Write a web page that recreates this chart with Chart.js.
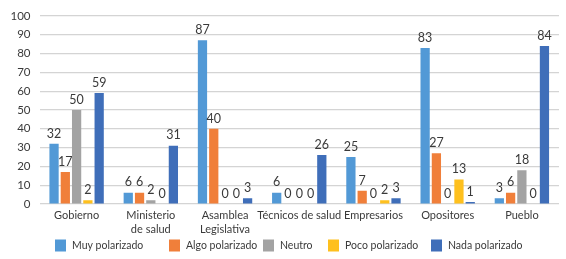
<!DOCTYPE html>
<html>
<head>
<meta charset="utf-8">
<script src="https://cdn.jsdelivr.net/npm/chart.js@4"></script>
<style>
html,body{margin:0;padding:0;background:#fff;}
#wrap{width:566px;height:259px;position:relative;}
</style>
</head>
<body>
<div id="wrap"><canvas id="c" width="566" height="259"></canvas></div>
<script>
const categories = [['Gobierno'], ['Ministerio', 'de salud'], ['Asamblea', 'Legislativa'], ['Técnicos de salud'], ['Empresarios'], ['Opositores'], ['Pueblo']];
const seriesNames = ['Muy polarizado', 'Algo polarizado', 'Neutro', 'Poco polarizado', 'Nada polarizado'];
const muyPolarizado  = [32, 6, 87, 6, 25, 83, 3];
const algoPolarizado = [17, 6, 40, 0, 7, 27, 6];
const neutro         = [50, 2, 0, 0, 0, 0, 18];
const pocoPolarizado = [2, 0, 0, 0, 2, 13, 0];
const nadaPolarizado = [59, 31, 3, 26, 3, 1, 84];
const yTicks = [0, 10, 20, 30, 40, 50, 60, 70, 80, 90, 100];

const colors = ['#5299D6', '#F07F3A', '#A3A3A3', '#FEC01E', '#3F6EB9'];
const seriesValues = [muyPolarizado, algoPolarizado, neutro, pocoPolarizado, nadaPolarizado];
const FONT = "Lato, 'Noto Sans', sans-serif";
const TXT = '#3a3a3a';

const dataLabels = {
  id: 'dataLabels',
  afterDatasetsDraw(chart) {
    const ctx = chart.ctx;
    ctx.save();
    ctx.font = '12.5px ' + FONT;
    ctx.fillStyle = TXT;
    ctx.textAlign = 'center';
    ctx.textBaseline = 'bottom';
    chart.data.datasets.forEach((ds, i) => {
      const meta = chart.getDatasetMeta(i);
      meta.data.forEach((bar, j) => {
        ctx.fillText(String(ds.data[j]), bar.x, bar.y - 4);
      });
    });
    ctx.restore();
  }
};

const legendX = [55, 169, 263, 328, 431];
const customLegend = {
  id: 'customLegend',
  afterDraw(chart) {
    const ctx = chart.ctx;
    ctx.save();
    ctx.font = '10.5px ' + FONT;
    ctx.textBaseline = 'middle';
    ctx.textAlign = 'left';
    chart.data.datasets.forEach((ds, i) => {
      const x = legendX[i];
      const y = 245.5;
      ctx.fillStyle = ds.backgroundColor;
      ctx.fillRect(x, y - 6, 11, 12);
      ctx.fillStyle = TXT;
      ctx.fillText(ds.label, x + 17, y);
    });
    ctx.restore();
  }
};

new Chart(document.getElementById('c'), {
  type: 'bar',
  data: {
    labels: categories,
    datasets: seriesNames.map((name, i) => ({
      label: name,
      data: seriesValues[i],
      backgroundColor: colors[i],
      categoryPercentage: 0.76,
      barPercentage: 0.82
    }))
  },
  options: {
    responsive: false,
    animation: false,
    layout: { padding: { top: 5, right: 7, bottom: 22, left: 0 } },
    plugins: { legend: { display: false }, tooltip: { enabled: false } },
    scales: {
      x: {
        afterFit(axis) { axis.height = 33; },
        grid: { display: false, drawTicks: false, tickLength: 0 },
        border: { display: false },
        ticks: { color: TXT, font: { family: FONT, size: 11, lineHeight: 1.28 }, padding: 4, maxRotation: 0, autoSkip: false }
      },
      y: {
        min: 0, max: 100,
        afterBuildTicks(axis) { axis.ticks = yTicks.map(v => ({ value: v })); },
        afterFit(axis) { axis.width = 39.5; },
        grid: { color: '#d4d4d4', lineWidth: 1.2, drawTicks: false },
        border: { display: false },
        ticks: { color: TXT, font: { family: FONT, size: 11.5 }, padding: 9 }
      }
    }
  },
  plugins: [dataLabels, customLegend]
});
</script>
</body>
</html>
